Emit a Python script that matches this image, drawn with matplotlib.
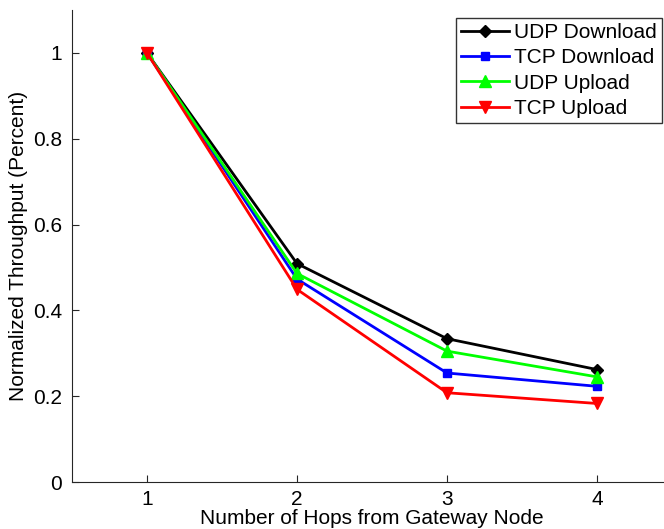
import matplotlib
matplotlib.use("Agg")
import matplotlib.pyplot as plt

plt.rcParams['font.family'] = ['Liberation Sans', 'DejaVu Sans']

hops = [1, 2, 3, 4]
udp_download = [1.0, 0.509, 0.334, 0.262]
tcp_download = [1.0, 0.473, 0.254, 0.223]
udp_upload = [1.0, 0.486, 0.305, 0.245]
tcp_upload = [1.0, 0.449, 0.208, 0.183]

fs = 15

fig = plt.figure(figsize=(6.64, 5.29), dpi=100)
ax = fig.add_axes([72/664, 47/529, 600/664, 472/529])

ax.plot(hops, udp_download, color='black', marker='D', markersize=6, lw=2, label='UDP Download')
ax.plot(hops, tcp_download, color='blue', marker='s', markersize=6, lw=2, label='TCP Download')
ax.plot(hops, udp_upload, color='#00ff00', marker='^', markersize=8, lw=2, label='UDP Upload')
ax.plot(hops, tcp_upload, color='red', marker='v', markersize=8, lw=2, label='TCP Upload')

ax.set_xlim(0.5, 4.5)
ax.set_ylim(0, 1.1)
ax.set_xticks([1, 2, 3, 4])
ax.set_yticks([0, 0.2, 0.4, 0.6, 0.8, 1.0])
ax.set_yticklabels(['0', '0.2', '0.4', '0.6', '0.8', '1'])
ax.spines['top'].set_visible(False)
ax.spines['right'].set_visible(False)
for s in ax.spines.values():
    s.set_color('#262626')
ax.tick_params(axis='y', direction='in', length=5, labelsize=fs, pad=7, color='#262626')
ax.tick_params(axis='x', direction='in', length=5, labelsize=fs, pad=6, color='#262626')
ax.set_xlabel('Number of Hops from Gateway Node', fontsize=fs, labelpad=0)
ax.set_ylabel('Normalized Throughput (Percent)', fontsize=fs, labelpad=4)

leg = ax.legend(loc='upper left', bbox_to_anchor=(456/664, 1-18/529), bbox_transform=fig.transFigure,
                fontsize=fs, frameon=True, fancybox=False, edgecolor='black',
                handlelength=2.3, handletextpad=0.25, borderpad=0.25, labelspacing=0.3, borderaxespad=0)
leg.get_frame().set_linewidth(1)

fig.savefig('out.png', dpi=100)
